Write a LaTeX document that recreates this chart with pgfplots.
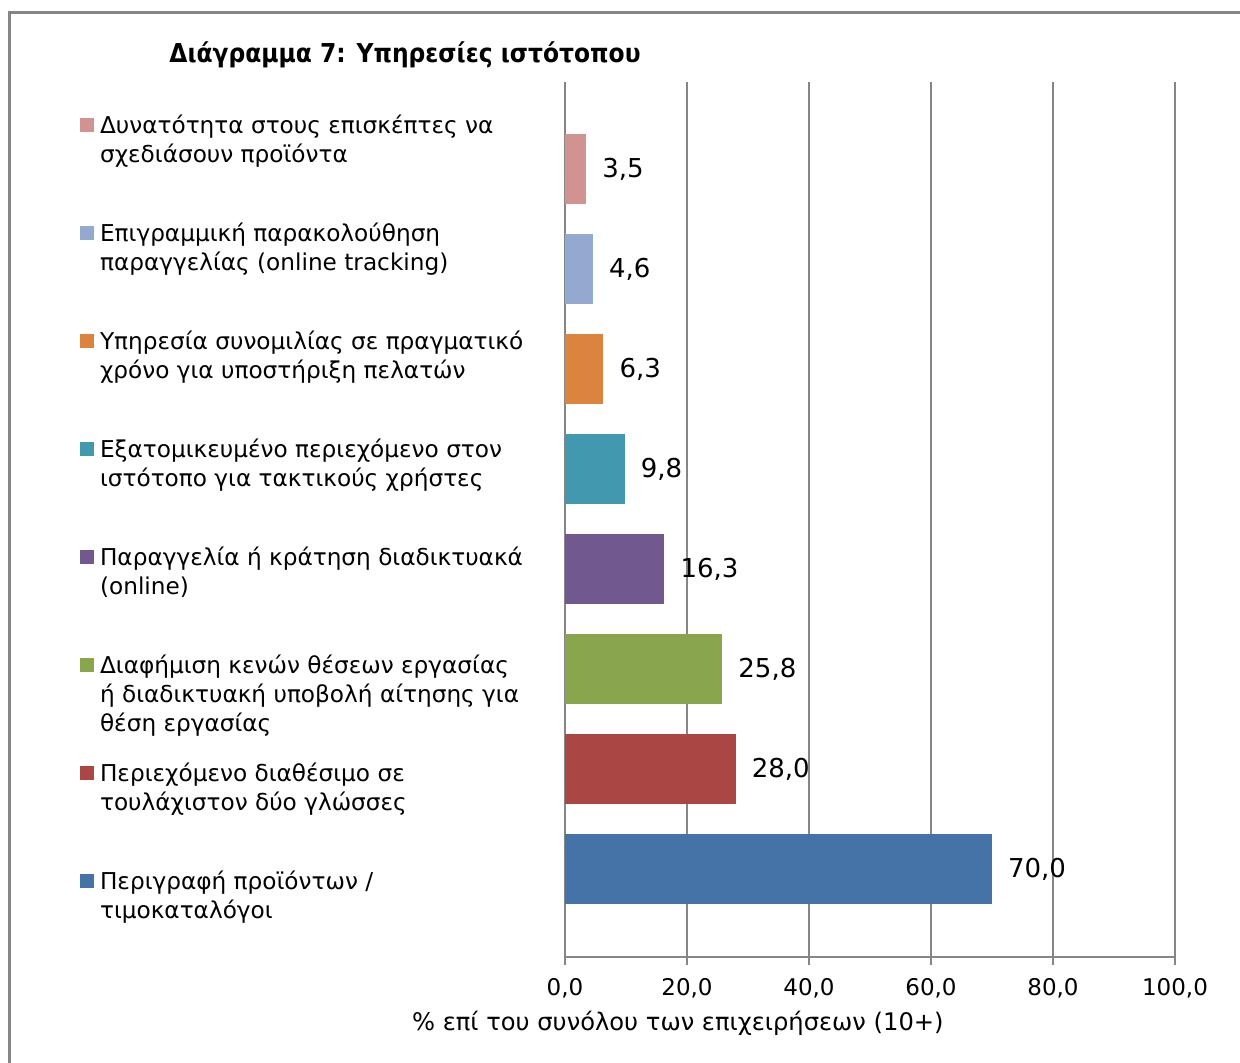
\documentclass[border=0pt]{standalone}
\usepackage{pgfplots}
\pgfplotsset{compat=1.18}
\usepackage{fontspec}
\setmainfont{DejaVu Sans}
\newfontfamily\condfont{DejaVu Sans Condensed}
\definecolor{c1}{HTML}{D19392}
\definecolor{c2}{HTML}{93A9CF}
\definecolor{c3}{HTML}{DB843D}
\definecolor{c4}{HTML}{4198AF}
\definecolor{c5}{HTML}{71588F}
\definecolor{c6}{HTML}{89A54E}
\definecolor{c7}{HTML}{AA4643}
\definecolor{c8}{HTML}{4572A7}
\definecolor{gridc}{HTML}{868686}
\newcommand{\lgd}[1]{\parbox[b][52.5pt][t]{250pt}{\fontsize{11.6}{14.5}\selectfont\strut #1}}
\begin{document}
\begin{tikzpicture}
\useasboundingbox (0,0) rectangle (620pt,531.5pt);
\begin{axis}[
  at={(282.5pt,53pt)}, anchor=south west,
  scale only axis, width=305pt, height=437.5pt,
  xbar, bar width=0.7, bar shift=0pt,
  xmin=0, xmax=100, ymin=-0.875, ymax=7.875,
  xtick={0,20,40,60,80,100}, ytick=\empty,
  axis lines*=left,
  axis line style={draw=gridc, line width=1pt},
  xmajorgrids, grid style={draw=gridc, line width=1pt},
  tick align=outside, major tick length=4pt,
  xtick style={draw=gridc, line width=1pt},
  xticklabel style={font=\fontsize{11.5}{14}\selectfont, text=black, yshift=-3pt},
  xlabel={\% επί του συνόλου των επιχειρήσεων (10+)},
  xlabel style={at={(axis description cs:0.185,-0.0754)}, anchor=center, font=\fontsize{12.1}{15}\selectfont},
  point meta=x,
  nodes near coords, nodes near coords align={horizontal},
  every node near coord/.append style={font=\fontsize{13}{16}\selectfont, text=black, xshift=4.5pt},
  legend style={at={(axis description cs:-0.795,0.9649)}, anchor=north west, draw=none, fill=none,
    inner sep=0pt, outer sep=0pt, row sep=0pt, column sep=3pt, cells={anchor=base west}, nodes={inner sep=0pt}},
  legend image code/.code={\fill[#1] (0pt,42.65pt) rectangle (7pt,49.65pt);},
  /pgf/number format/fixed, /pgf/number format/fixed zerofill,
  /pgf/number format/precision=1, /pgf/number format/use comma,
  /pgf/number format/assume math mode=true,
]
\addplot[fill=c1, draw=none] coordinates {(3.5,7)};
\addplot[fill=c2, draw=none] coordinates {(4.6,6)};
\addplot[fill=c3, draw=none] coordinates {(6.3,5)};
\addplot[fill=c4, draw=none] coordinates {(9.8,4)};
\addplot[fill=c5, draw=none] coordinates {(16.3,3)};
\addplot[fill=c6, draw=none] coordinates {(25.8,2)};
\addplot[fill=c7, draw=none] coordinates {(28.0,1)};
\addplot[fill=c8, draw=none] coordinates {(70.0,0)};
\legend{
  \lgd{Δυνατότητα στους επισκέπτες να\\σχεδιάσουν προϊόντα},
  \lgd{Επιγραμμική παρακολούθηση\\παραγγελίας (online tracking)},
  \lgd{Υπηρεσία συνομιλίας σε πραγματικό\\χρόνο για υποστήριξη πελατών},
  \lgd{Εξατομικευμένο περιεχόμενο στον\\ιστότοπο για τακτικούς χρήστες},
  \lgd{Παραγγελία ή κράτηση διαδικτυακά\\(online)},
  \lgd{Διαφήμιση κενών θέσεων εργασίας\\ή διαδικτυακή υποβολή αίτησης για\\θέση εργασίας},
  \lgd{Περιεχόμενο διαθέσιμο σε\\τουλάχιστον δύο γλώσσες},
  \lgd{Περιγραφή προϊόντων /\\τιμοκαταλόγοι}
}
\end{axis}
\node[font=\condfont\bfseries\fontsize{13}{15}\selectfont] at (202.5pt,504pt) {Διάγραμμα 7: Υπηρεσίες ιστότοπου};
\begin{scope}
\clip (0,0) rectangle (620pt,531.5pt);
\draw[draw=gridc, line width=1.5pt] (4.75pt,-20pt) rectangle (640pt,525.25pt);
\end{scope}
\end{tikzpicture}
\end{document}
